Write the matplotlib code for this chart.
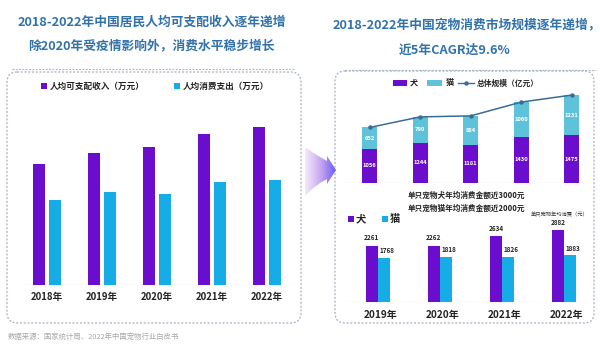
import numpy as np
import matplotlib
matplotlib.use("Agg")
import matplotlib.pyplot as plt
from matplotlib.patches import FancyBboxPatch, Polygon, Rectangle
from matplotlib.colors import LinearSegmentedColormap

plt.rcParams['font.family'] = ['Noto Sans CJK SC', 'DejaVu Sans']

# ---------------- data ----------------
years_left = ['2018年', '2019年', '2020年', '2021年', '2022年']
income = [2.82, 3.07, 3.22, 3.51, 3.69]      # 人均可支配收入（万元）
expense = [1.99, 2.16, 2.12, 2.41, 2.45]     # 人均消费支出（万元）

market_years = ['2018', '2019', '2020', '2021', '2022']
dog_market = [1056, 1244, 1181, 1430, 1475]  # 犬（亿元）
cat_market = [652, 790, 884, 1060, 1231]     # 猫（亿元）

spend_years = ['2019年', '2020年', '2021年', '2022年']
dog_spend = [2261, 2262, 2634, 2882]
cat_spend = [1768, 1818, 1826, 1883]

PURPLE = '#6b0dcc'
CYAN = '#16ace6'
TEAL = '#5ec3da'
LINE = '#3a6c98'
TITLE = '#3272ab'
BOX = '#a7b2c2'

W, H = 600, 345
fig = plt.figure(figsize=(6, 3.45), dpi=100)
fig.patch.set_facecolor('white')

def rect(x0, y0, x1, y1):
    return [x0 / W, 1 - y1 / H, (x1 - x0) / W, (y1 - y0) / H]

ax0 = fig.add_axes([0, 0, 1, 1])
ax0.axis('off')

# titles
tkw = dict(fontsize=9.2, fontweight='bold', color=TITLE, ha='center', va='center')
ax0.text(152, 22, '2018-2022年中国居民人均可支配收入逐年递增', **tkw)
ax0.text(151, 46, '除2020年受疫情影响外，消费水平稳步增长', **tkw)
ax0.text(467, 25, '2018-2022年中国宠物消费市场规模逐年递增，', **tkw)
ax0.text(455, 50, '近5年CAGR达9.6%', **tkw)

dash = (0, (1.6, 1.4))
ax0.plot([12, 294], [69, 69], color=BOX, lw=0.8, ls=dash)
ax0.plot([345, 596], [70, 70], color=BOX, lw=0.8, ls=dash)

# dashed rounded boxes
for (x0, y0, x1, y1) in [(7, 72, 301, 323), (335, 71, 594, 323)]:
    ax0.add_patch(FancyBboxPatch((x0, y0), x1 - x0, y1 - y0,
                                 boxstyle='round,pad=0,rounding_size=10',
                                 fill=False, ec=BOX, lw=0.9, ls=dash))

# source
ax0.text(8, 337, '数据来源：国家统计局、2022年中国宠物行业白皮书', fontsize=5.3,
         color='#a8a8a8', ha='left', va='center')

# left legend
ax0.add_patch(Rectangle((41, 83), 6, 6, color=PURPLE, lw=0))
ax0.text(50, 86, '人均可支配收入（万元）', fontsize=6.2, fontweight='bold',
         color='#222222', ha='left', va='center')
ax0.add_patch(Rectangle((174, 83), 6, 6, color=CYAN, lw=0))
ax0.text(183, 86, '人均消费支出（万元）', fontsize=6.2, fontweight='bold',
         color='#222222', ha='left', va='center')

# right top legend
ax0.add_patch(Rectangle((393, 80), 14, 6, color=PURPLE, lw=0))
ax0.text(410, 83, '犬', fontsize=5.8, fontweight='bold', color='#222222', va='center')
ax0.add_patch(Rectangle((427, 80), 15, 6, color=TEAL, lw=0))
ax0.text(446, 83, '猫', fontsize=5.8, fontweight='bold', color='#222222', va='center')
ax0.plot([458, 474], [83, 83], color=LINE, lw=1.0)
ax0.plot([466], [83], 'o', color=LINE, ms=2.2)
ax0.text(477, 83, '总体规模（亿元）', fontsize=5.6, fontweight='bold', color='#222222', va='center')

# right middle texts
ax0.text(466, 195, '单只宠物犬年均消费金额近3000元', fontsize=5.5, fontweight='bold',
         color='#222222', ha='center', va='center')
ax0.text(466, 208, '单只宠物猫年均消费金额近2000元', fontsize=5.5, fontweight='bold',
         color='#222222', ha='center', va='center')
ax0.add_patch(Rectangle((348, 216), 6, 6, color=PURPLE, lw=0))
ax0.text(356, 219, '犬', fontsize=7.4, fontweight='bold', color='#222222', va='center')
ax0.add_patch(Rectangle((382, 216), 6, 6, color=CYAN, lw=0))
ax0.text(390, 219, '猫', fontsize=7.4, fontweight='bold', color='#222222', va='center')
ax0.text(560, 214, '单只宠物年均消费（元）', fontsize=3.8, color='#333333',
         ha='center', va='center')

# arrow with gradient
verts = [(305, 147), (312, 152), (320, 157), (327, 161), (327, 156), (336, 170),
         (327, 184), (327, 179), (320, 183), (312, 189), (305, 196)]
poly = Polygon(verts, closed=True, fc='none', ec='none')
ax0.add_patch(poly)
cmap = LinearSegmentedColormap.from_list('arr', ['#f4ecfc', '#c9a8f0', '#6a5df3'])
grad = np.linspace(0, 1, 256).reshape(1, -1)
im = ax0.imshow(grad, cmap=cmap, extent=[305, 336, 197, 146], aspect='auto', zorder=2)
im.set_clip_path(poly)

ax0.set_xlim(0, W)
ax0.set_ylim(H, 0)

# ---------------- left chart ----------------
axl = fig.add_axes(rect(20, 100, 295, 285))
axl.patch.set_alpha(0)
xl = np.arange(len(years_left))
bw = 12 / 55
axl.bar(xl - 0.145, income, width=bw, color=PURPLE, zorder=3)
axl.bar(xl + 0.145, expense, width=bw, color=CYAN, zorder=3)
axl.axhline(0, color='#e4e4e4', lw=0.9, zorder=2)
axl.set_xlim((20 - 47) / 55, (295 - 47) / 55)
axl.set_ylim(0, 185 * 0.0233)
axl.axis('off')
for i, lab in enumerate(years_left):
    axl.annotate(lab, xy=(i, 0), xycoords=('data', 'axes fraction'),
                 xytext=(0, -12 * 0.72), textcoords='offset points',
                 ha='center', va='center', fontsize=6.9, fontweight='bold', color='#222222')

# ---------------- right top chart ----------------
axt = fig.add_axes(rect(343, 90, 592, 183))
axt.patch.set_alpha(0)
xt = np.arange(len(market_years))
total = [d + c for d, c in zip(dog_market, cat_market)]
axt.bar(xt, dog_market, width=0.3, color=PURPLE, zorder=3)
axt.bar(xt, cat_market, bottom=dog_market, width=0.3, color=TEAL, zorder=3)
axt.plot(xt, total, color=LINE, lw=1.1, marker='o', ms=2.2, zorder=4)
axt.axhline(0, color='#e4e4e4', lw=0.9, zorder=2)
for i in range(len(xt)):
    axt.text(xt[i], dog_market[i] / 2, str(dog_market[i]), color='white',
             fontsize=4.2, fontweight='bold', ha='center', va='center', zorder=5)
    axt.text(xt[i], dog_market[i] + cat_market[i] / 2, str(cat_market[i]), color='white',
             fontsize=4.2, fontweight='bold', ha='center', va='center', zorder=5)
axt.set_xlim((343 - 369.5) / 50.6, (592 - 369.5) / 50.6)
axt.set_ylim(0, 93 / 0.0325)
axt.axis('off')

# ---------------- right bottom chart ----------------
axb = fig.add_axes(rect(345, 225, 592, 302))
axb.patch.set_alpha(0)
xb = np.arange(len(spend_years))
axb.bar(xb - 0.1, dog_spend, width=0.2, color=PURPLE, zorder=3)
axb.bar(xb + 0.1, cat_spend, width=0.2, color=CYAN, zorder=3)
axb.axhline(0, color='#e4e4e4', lw=0.9, zorder=2)
for i in range(len(xb)):
    axb.annotate(str(dog_spend[i]), xy=(xb[i] - 0.1, dog_spend[i]),
                 xytext=(0, 8 * 0.72), textcoords='offset points', ha='center', va='center',
                 fontsize=4.6, fontweight='bold', color='#222222', zorder=5)
    axb.annotate(str(cat_spend[i]), xy=(xb[i] + 0.1, cat_spend[i]),
                 xytext=(2, 7 * 0.72), textcoords='offset points', ha='center', va='center',
                 fontsize=4.6, fontweight='bold', color='#222222', zorder=5)
    axb.annotate(spend_years[i], xy=(xb[i], 0), xycoords=('data', 'axes fraction'),
                 xytext=(1.5, -13 * 0.72), textcoords='offset points',
                 ha='center', va='center', fontsize=7.2, fontweight='bold', color='#222222')
axb.set_xlim((345 - 378) / 62, (592 - 378) / 62)
axb.set_ylim(0, 77 / 0.0249)
axb.axis('off')

fig.savefig('out.png', dpi=100, facecolor='white')
